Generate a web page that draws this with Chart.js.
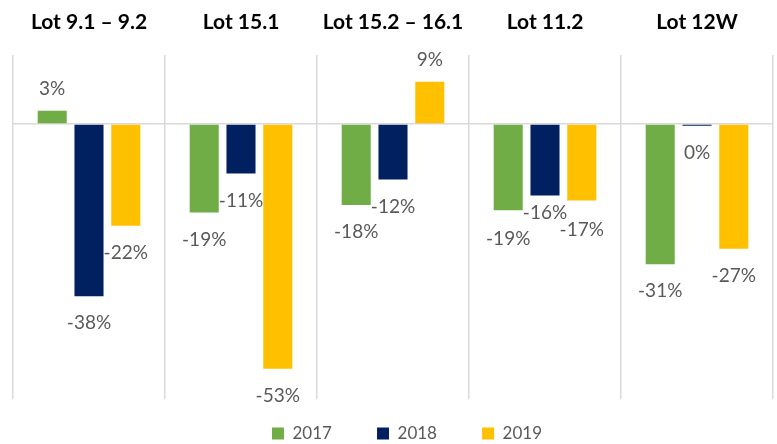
<!DOCTYPE html>
<html lang="en">
<head>
    <meta charset="UTF-8">
    <script src="https://cdn.jsdelivr.net/npm/chart.js"></script>
    <title>Lots</title>
    <style>
        body { margin: 0; background: #fff; }
    </style>
</head>
<body>

<canvas id="lotChart" width="777" height="444"></canvas>

<script>
    const lots = ['Lot 9.1 \u2013 9.2', 'Lot 15.1', 'Lot 15.2 \u2013 16.1', 'Lot 11.2', 'Lot 12W'];
    const years = ['2017', '2018', '2019'];
    const values2017 = [2.9, -19.3, -17.7, -18.8, -30.6];
    const values2018 = [-37.6, -10.8, -12.1, -15.6, -0.4];
    const values2019 = [-22.2, -53.4, 9.2, -16.7, -27.2];
    const colors = ['#70AD47', '#002060', '#FFC000'];

    const labelFont = 'Lato, "Open Sans", sans-serif';

    // value labels above / below each bar, pushed apart when two collide
    const valueLabels = {
        id: 'valueLabels',
        afterDatasetsDraw(chart) {
            const ctx = chart.ctx;
            ctx.save();
            ctx.font = '19px ' + labelFont;
            ctx.fillStyle = '#595959';
            ctx.textAlign = 'center';
            ctx.textBaseline = 'middle';
            const n = chart.data.labels.length;
            for (let j = 0; j < n; j++) {
                const items = chart.data.datasets.map((ds, i) => {
                    const bar = chart.getDatasetMeta(i).data[j];
                    const v = ds.data[j];
                    const text = Math.round(v) + '%';
                    return {
                        text, v, x: bar.x,
                        y: v >= 0 ? bar.y - 22 : bar.y + 27,
                        w: ctx.measureText(text).width
                    };
                });
                for (let k = 0; k < items.length - 1; k++) {
                    const a = items[k], b = items[k + 1];
                    if (a.v >= 0 || b.v >= 0) continue;
                    const overlapX = (a.w + b.w) / 2 - (b.x - a.x);
                    const dy = Math.abs(a.y - b.y);
                    if (overlapX > 2 && dy < 17) {
                        const upper = a.y <= b.y ? a : b;
                        const lower = upper === a ? b : a;
                        upper.y -= 17 - dy - 2;
                        lower.y += 2;
                    }
                }
                items.forEach(it => ctx.fillText(it.text, it.x, it.y));
            }
            ctx.restore();
        }
    };

    // nudge legend to sit like the original
    const legendShift = {
        id: 'legendShift',
        afterLayout(chart) {
            chart.legend.left += 14;
            chart.legend.right += 14;
        }
    };

    new Chart(document.getElementById('lotChart'), {
        type: 'bar',
        data: {
            labels: lots,
            datasets: [
                { label: years[0], data: values2017, backgroundColor: colors[0] },
                { label: years[1], data: values2018, backgroundColor: colors[1] },
                { label: years[2], data: values2019, backgroundColor: colors[2] }
            ]
        },
        options: {
            responsive: false,
            animation: false,
            layout: { padding: { left: 13, right: 4, top: -10, bottom: -8 } },
            datasets: {
                bar: { categoryPercentage: 0.726, barPercentage: 0.79 }
            },
            scales: {
                x: {
                    position: 'top',
                    border: { display: false },
                    grid: { color: '#d9d9d9', lineWidth: 1.5, drawTicks: false },
                    ticks: {
                        color: '#000',
                        padding: 20,
                        font: { family: labelFont, size: 21, weight: 'bold' }
                    }
                },
                y: {
                    min: -60,
                    max: 15,
                    border: { display: false },
                    ticks: { display: false, stepSize: 5 },
                    grid: {
                        drawTicks: false,
                        lineWidth: 1.5,
                        color: c => c.tick && c.tick.value === 0 ? '#d9d9d9' : 'transparent'
                    }
                }
            },
            plugins: {
                tooltip: { enabled: false },
                legend: {
                    position: 'bottom',
                    labels: {
                        boxWidth: 12,
                        boxHeight: 12,
                        padding: 26,
                        color: '#595959',
                        font: { family: labelFont, size: 17 },
                        generateLabels(chart) {
                            const items = Chart.defaults.plugins.legend.labels.generateLabels(chart);
                            items.forEach((it, i) => {
                                it.lineWidth = 0;
                                if (i < items.length - 1) it.text += '\u2002\u2002\u2009';
                            });
                            return items;
                        }
                    }
                }
            }
        },
        plugins: [valueLabels, legendShift]
    });
</script>
</body>
</html>
